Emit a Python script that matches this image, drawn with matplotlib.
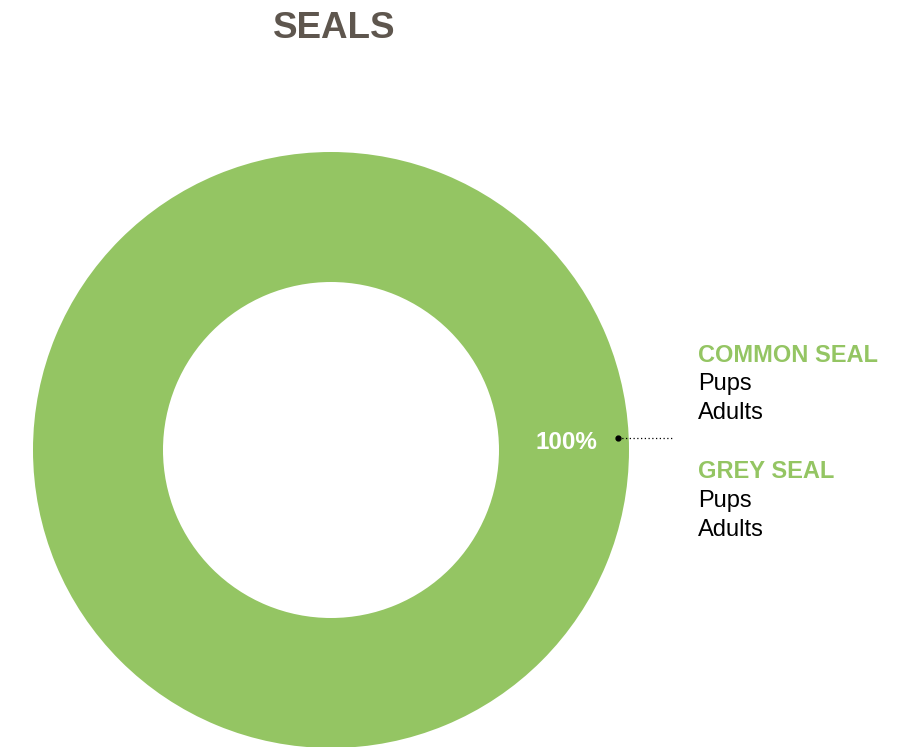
import numpy as np
import matplotlib
matplotlib.use("Agg")
import matplotlib.pyplot as plt

plt.rcParams['font.family'] = ['Liberation Sans', 'DejaVu Sans']

title = "SEALS"
slice_labels = ["Common seal"]
slice_values = [100.0]
pct_labels = ["100%"]
legend_groups = ["COMMON SEAL", "GREY SEAL"]
legend_items = [["Pups", "Adults"], ["Pups", "Adults"]]

GREEN = "#94C563"
TITLE_C = "#5E564E"

W, H = 906, 747
fig = plt.figure(figsize=(W / 100, H / 100), dpi=100)
ax = fig.add_axes([0, 0, 1, 1])

cx, cy = 331, H - 450
R = 298
ring = 130
wedges, _ = ax.pie(slice_values, colors=[GREEN], startangle=-177.6, counterclock=True,
                   center=(cx, cy), radius=R,
                   wedgeprops=dict(width=ring, edgecolor='none', linewidth=0))
ax.set_xlim(0, W)
ax.set_ylim(0, H)
ax.set_aspect('equal')
ax.axis('off')

# percent label + leader
for w, lab in zip(wedges, pct_labels):
    mid = np.deg2rad((w.theta1 + w.theta2) / 2)
    dx, dy = np.cos(mid), np.sin(mid)
    px, py = cx + 287 * dx, cy + 287 * dy
    ax.plot([px], [py], 'o', color='black', ms=3.5, zorder=5)
    ax.plot([px, px + 54], [py, py], color='black', lw=0.9, ls=(0, (1, 2)), zorder=5)
    ax.text(cx + 236 * dx, cy + 236 * dy - 2, lab, color='white', fontsize=17.5,
            fontweight='bold', ha='center', va='center', zorder=6)

# title
fig.text(334 / W, 1 - 28 / H, title, color=TITLE_C, fontsize=26.5, fontweight='bold',
         ha='center', va='center')

# legend
y0s = [355, 472]
for g, items, y0 in zip(legend_groups, legend_items, y0s):
    fig.text(698 / W, 1 - y0 / H, g, color=GREEN, fontsize=17, fontweight='bold',
             ha='left', va='center')
    for i, it in enumerate(items):
        fig.text(698 / W, 1 - (y0 + 29 * (i + 1)) / H, it, color='black', fontsize=17,
                 ha='left', va='center')

fig.savefig("out.png", dpi=100)
